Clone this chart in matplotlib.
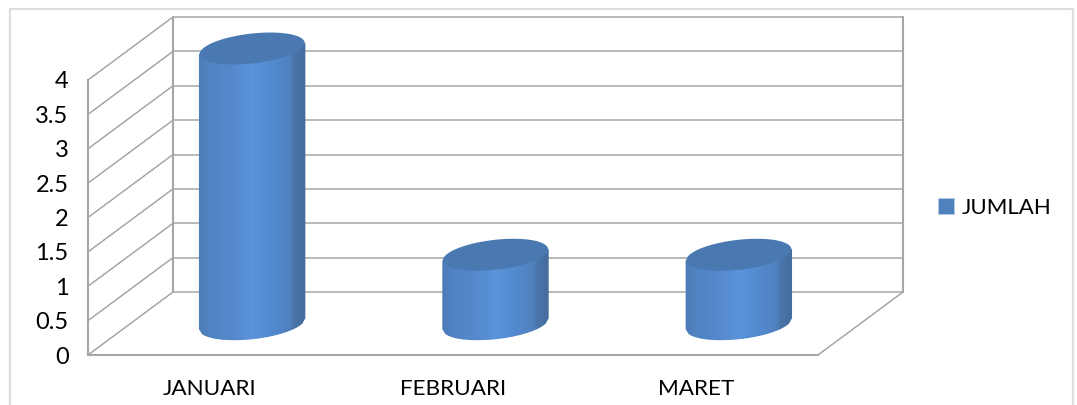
import numpy as np
import matplotlib
matplotlib.use("Agg")
import matplotlib.pyplot as plt
from matplotlib.patches import Patch, Rectangle

categories = ["JANUARI", "FEBRUARI", "MARET"]
values = [4, 1, 1]
series_name = "JUMLAH"
y_ticks = [0, 0.5, 1, 1.5, 2, 2.5, 3, 3.5, 4]
y_labels = ["0", "0.5", "1", "1.5", "2", "2.5", "3", "3.5", "4"]

W, H = 1077, 405
plt.rcParams["font.family"] = ["Lato", "DejaVu Sans"]
GRID = "#a6a6a6"
LW = 1.1

fig = plt.figure(figsize=(W / 100, H / 100), dpi=100, facecolor="white")
L, R, B, T = 88, 818, 355, 80
ax = fig.add_axes([L / W, (H - B) / H, (R - L) / W, (B - T) / H])
ax.set_xlim(0, len(categories))
ax.set_ylim(0, 4)
ax.patch.set_alpha(0)

sx = len(categories) / (R - L)      # data units per pixel
sy = 4 / (B - T)
DX, DY = 85 * sx, 63 * sy           # depth offset of the back wall

# outer chart frame
fig.add_artist(Rectangle((9.5 / W, -0.05), 1063 / W, (H - 8.5) / H + 0.05,
                         transform=fig.transFigure, fill=False,
                         edgecolor="#dddddd", linewidth=1.6))

# walls and grid
kw = dict(color=GRID, lw=LW, clip_on=False, zorder=1, solid_capstyle="round")
X = len(categories)
for v in y_ticks:
    ax.plot([0, DX], [v, v + DY], **kw)
    ax.plot([DX, X + DX], [v + DY, v + DY], **kw)
ax.plot([DX, DX], [DY, 4 + DY], **{**kw, "lw": 1.5})
ax.plot([X + DX, X + DX], [DY, 4 + DY], **{**kw, "lw": 1.5})
ax.plot([X, X + DX], [0, DY], **kw)

# shading across a cylinder, left to right
stops = [0.0, 0.10, 0.30, 0.50, 0.72, 0.88, 0.90, 1.0]
cols = ["#4c7cb8", "#5083c1", "#5488ca", "#5a93da", "#5289cd", "#4f80bb", "#4a76ab", "#456c9d"]
rgb = np.array([matplotlib.colors.to_rgb(c) for c in cols])

HX, SH, HY = 52.5, 5.5, 15.0        # top ellipse shape in pixels
fx = np.linspace(-1, 1, 36)         # even strips across the width
t_front = 2 * np.pi - np.arccos(fx)
t_full = np.linspace(0, 2 * np.pi, 200)


def arc(t):
    return HX * np.cos(t) * sx, (SH * np.cos(t) + HY * np.sin(t)) * sy


for i, v in enumerate(values):
    cx = i + 0.5 + DX / 2
    base = DY / 2
    ex, ey = arc(t_front)
    for j in range(len(t_front) - 1):
        f = (ex[j] + ex[j + 1]) / 2 / (2 * HX * sx) + 0.5
        c = [np.interp(f, stops, rgb[:, k]) for k in range(3)]
        px = [cx + ex[j], cx + ex[j + 1], cx + ex[j + 1], cx + ex[j]]
        py = [base + ey[j], base + ey[j + 1], base + v + ey[j + 1], base + v + ey[j]]
        ax.fill(px, py, facecolor=c, edgecolor=c, lw=1.0, clip_on=False, zorder=3)
    tx, ty = arc(t_full)
    ax.fill(cx + tx, base + v + ty, color="#4a79b2", lw=0, clip_on=False, zorder=4)

# axes
ax.set_xticks([i + 0.5 for i in range(len(categories))], categories)
ax.set_yticks(y_ticks, y_labels)
ax.tick_params(length=0, labelcolor="black")
ax.tick_params(axis="x", pad=17, labelsize=16.2)
ax.tick_params(axis="y", pad=14, labelsize=17)
for s in ("top", "right"):
    ax.spines[s].set_visible(False)
for s in ("left", "bottom"):
    ax.spines[s].set_color(GRID)
    ax.spines[s].set_linewidth(1.5)
    ax.spines[s].set_zorder(2)

fig.legend(handles=[Patch(facecolor="#4f81bd", edgecolor="#b9cde5", linewidth=0.5, label=series_name)],
           loc="center left", bbox_to_anchor=(938 / W, (H - 208) / H), frameon=False,
           fontsize=16, handlelength=0.72, handleheight=0.72, handletextpad=0.36,
           borderpad=0, borderaxespad=0)

fig.savefig("out.png", dpi=100)
